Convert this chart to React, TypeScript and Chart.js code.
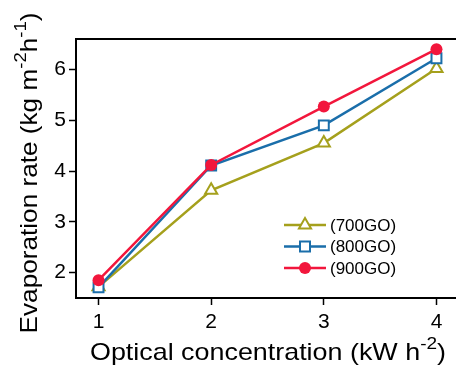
import React, { useEffect, useRef } from "react";
import { Chart, registerables } from "chart.js";

Chart.register(...registerables);

const xValues = [1, 2, 3, 4];
const series700 = [1.72, 3.62, 4.55, 6.02];
const series800 = [1.71, 4.11, 4.9, 6.22];
const series900 = [1.85, 4.12, 5.27, 6.4];
const seriesLabels = ["(700GO)", "(800GO)", "(900GO)"];
const xTicks = [1, 2, 3, 4];
const yTicks = [2, 3, 4, 5, 6];
const xTitle = [
  { t: "Optical concentration (kW h", sup: false },
  { t: "-2", sup: true },
  { t: ")", sup: false },
];
const yTitle = [
  { t: "Evaporation rate (kg m", sup: false },
  { t: "-2", sup: true },
  { t: "h", sup: false },
  { t: "-1", sup: true },
  { t: ")", sup: false },
];

const OLIVE = "#a5a01c";
const BLUE = "#1a6eaa";
const RED = "#f2163c";
const FONT = "'Liberation Sans', Arial, sans-serif";

function drawRich(ctx, parts, size, cx, cy, rot, stretch) {
  const supSize = Math.round(size * 0.72);
  let total = 0;
  const widths = parts.map((p) => {
    ctx.font = `${p.sup ? supSize : size}px ${FONT}`;
    const w = ctx.measureText(p.t).width;
    total += w;
    return w;
  });
  ctx.save();
  ctx.translate(cx, cy);
  ctx.rotate(rot);
  ctx.scale(stretch, 1);
  ctx.fillStyle = "#000";
  ctx.textBaseline = "middle";
  ctx.textAlign = "left";
  let x = -total / 2;
  parts.forEach((p, i) => {
    ctx.font = `${p.sup ? supSize : size}px ${FONT}`;
    ctx.fillText(p.t, x, p.sup ? -size * 0.36 : 0);
    x += widths[i];
  });
  ctx.restore();
}

function drawMarker(ctx, style, x, y, color) {
  ctx.save();
  ctx.lineWidth = 2;
  ctx.strokeStyle = color;
  ctx.beginPath();
  if (style === "triangle") {
    const r = 7;
    ctx.moveTo(x, y - r);
    ctx.lineTo(x + r * 0.866, y + r * 0.5);
    ctx.lineTo(x - r * 0.866, y + r * 0.5);
    ctx.closePath();
    ctx.fillStyle = "#fff";
    ctx.fill();
    ctx.stroke();
  } else if (style === "rect") {
    const s = 5;
    ctx.rect(x - s, y - s, 2 * s, 2 * s);
    ctx.fillStyle = "#fff";
    ctx.fill();
    ctx.stroke();
  } else {
    ctx.arc(x, y, 6, 0, Math.PI * 2);
    ctx.fillStyle = color;
    ctx.fill();
  }
  ctx.restore();
}

const decorPlugin = {
  id: "decor",
  afterDraw(chart) {
    const { ctx, chartArea } = chart;
    ctx.save();
    ctx.strokeStyle = "#000";
    ctx.lineWidth = 2;
    ctx.strokeRect(chartArea.left, chartArea.top, chartArea.right - chartArea.left, chartArea.bottom - chartArea.top);
    ctx.restore();
    drawRich(ctx, xTitle, 24, 268, 353, 0, 1.12);
    drawRich(ctx, yTitle, 24, 30, 173, -Math.PI / 2, 1.09);
    const styles = ["triangle", "rect", "circle"];
    const colors = [OLIVE, BLUE, RED];
    const rows = [225, 246.5, 268];
    seriesLabels.forEach((lab, i) => {
      const y = rows[i];
      ctx.save();
      ctx.strokeStyle = colors[i];
      ctx.lineWidth = 2.5;
      ctx.beginPath();
      ctx.moveTo(284, y);
      ctx.lineTo(326, y);
      ctx.stroke();
      ctx.restore();
      drawMarker(ctx, styles[i], 305, y, colors[i]);
      ctx.save();
      ctx.fillStyle = "#000";
      ctx.font = `17px ${FONT}`;
      ctx.textBaseline = "middle";
      ctx.textAlign = "left";
      ctx.fillText(lab, 330, y + 1);
      ctx.restore();
    });
  },
};

export default function App() {
  const ref = useRef(null);
  useEffect(() => {
    const mk = (vals) => xValues.map((x, i) => ({ x, y: vals[i] }));
    const chart = new Chart(ref.current, {
      type: "line",
      data: {
        datasets: [
          {
            label: seriesLabels[0],
            data: mk(series700),
            borderColor: OLIVE,
            backgroundColor: "#fff",
            pointBackgroundColor: "#fff",
            pointBorderColor: OLIVE,
            pointStyle: "triangle",
            pointRadius: 7,
            pointBorderWidth: 2,
            borderWidth: 2.5,
            order: 3,
          },
          {
            label: seriesLabels[1],
            data: mk(series800),
            borderColor: BLUE,
            backgroundColor: "#fff",
            pointBackgroundColor: "#fff",
            pointBorderColor: BLUE,
            pointStyle: "rect",
            pointRadius: 7,
            pointBorderWidth: 2,
            borderWidth: 2.5,
            order: 2,
          },
          {
            label: seriesLabels[2],
            data: mk(series900),
            borderColor: RED,
            backgroundColor: RED,
            pointBackgroundColor: RED,
            pointBorderColor: RED,
            pointStyle: "circle",
            pointRadius: 6,
            pointBorderWidth: 0,
            borderWidth: 2.5,
            order: 1,
          },
        ],
      },
      options: {
        animation: false,
        responsive: false,
        layout: { padding: { left: 0, top: 39, right: 11, bottom: 0 } },
        plugins: { legend: { display: false }, tooltip: { enabled: false } },
        scales: {
          x: {
            type: "linear",
            min: 0.8,
            max: 4.2,
            afterFit: (s) => { s.height = 76; },
            afterBuildTicks: (s) => { s.ticks = xTicks.map((v) => ({ value: v })); },
            grid: { drawOnChartArea: false, drawTicks: true, tickLength: 7, tickColor: "#000", tickWidth: 1.5 },
            border: { display: true, color: "#000", width: 2 },
            ticks: { color: "#000", font: { size: 21, family: FONT }, padding: 5, maxRotation: 0 },
          },
          y: {
            type: "linear",
            min: 1.5,
            max: 6.6,
            afterFit: (s) => { s.width = 76; },
            afterBuildTicks: (s) => { s.ticks = yTicks.map((v) => ({ value: v })); },
            grid: { drawOnChartArea: false, drawTicks: true, tickLength: 7, tickColor: "#000", tickWidth: 1.5 },
            border: { display: true, color: "#000", width: 2 },
            ticks: { color: "#000", font: { size: 21, family: FONT }, padding: 3 },
          },
        },
      },
      plugins: [decorPlugin],
    });
    return () => chart.destroy();
  }, []);
  return (
    <div style={{ position: "fixed", left: 0, top: 0, width: 456, height: 374, overflow: "hidden", background: "#fff" }}>
      <canvas ref={ref} width={470} height={374} style={{ display: "block" }} />
    </div>
  );
}
